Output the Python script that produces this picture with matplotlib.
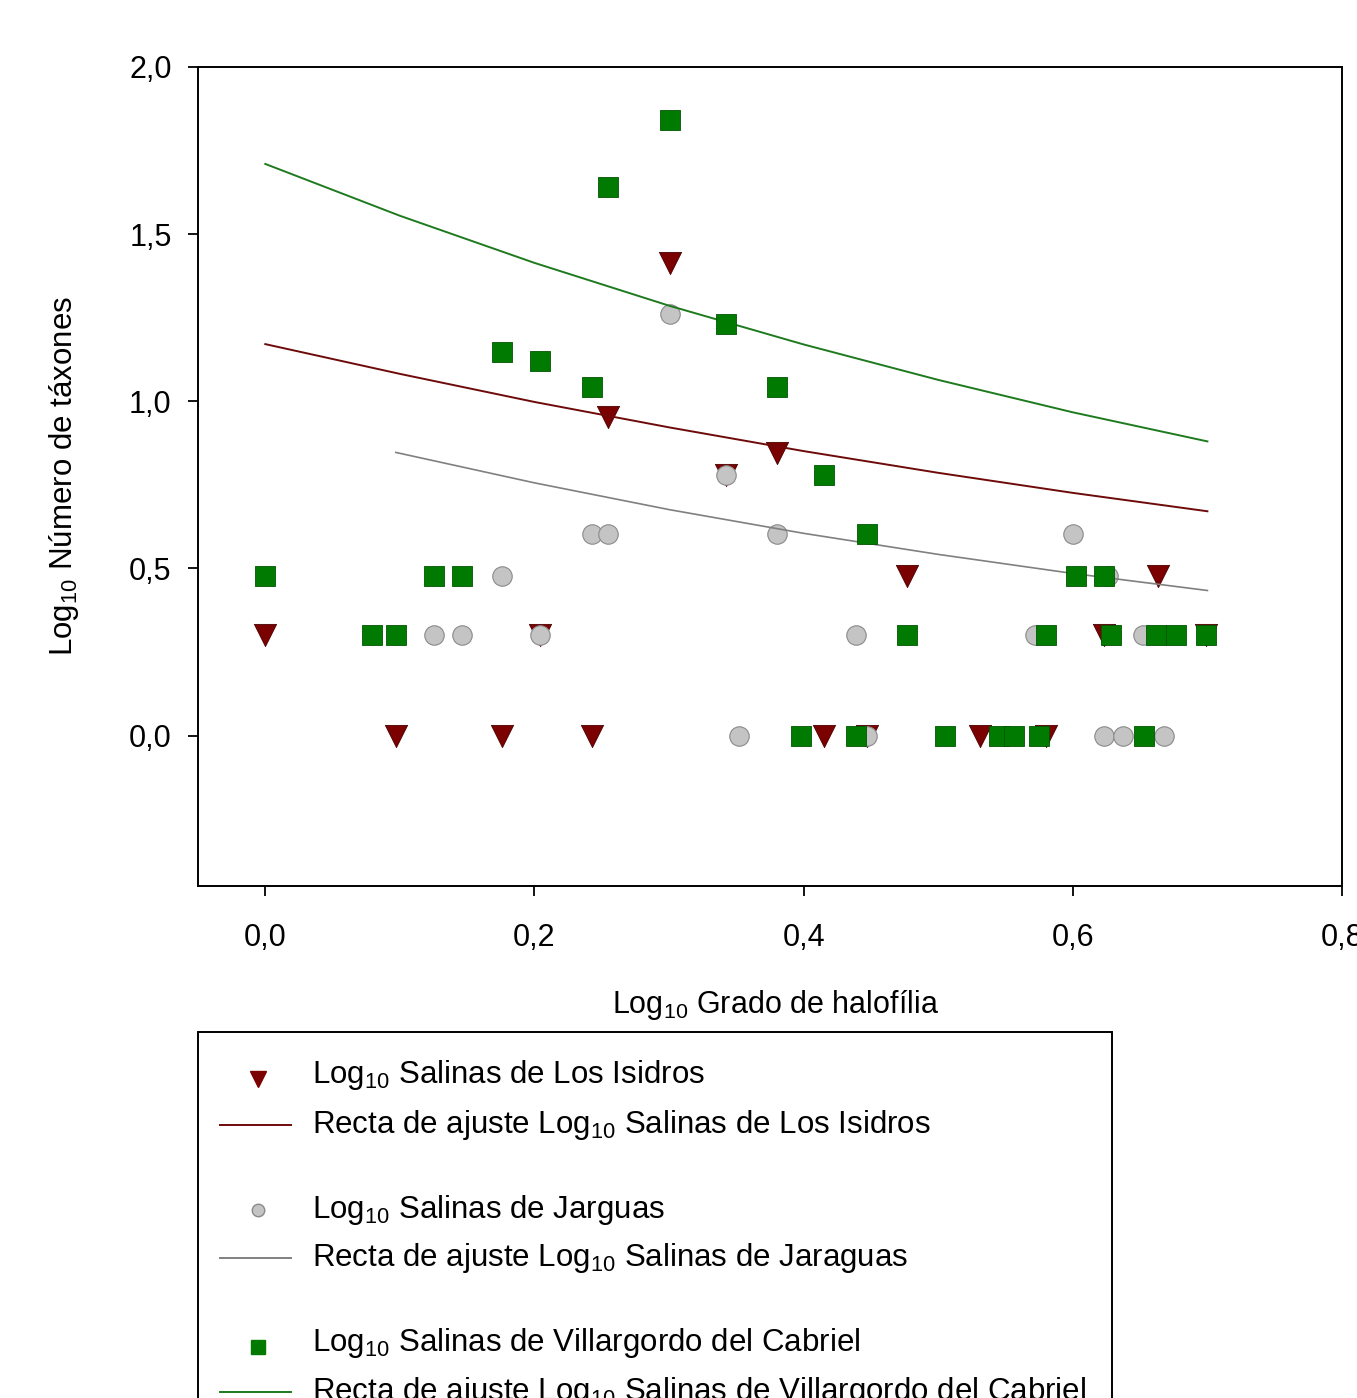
import matplotlib
matplotlib.use('Agg')
import matplotlib.pyplot as plt
from matplotlib.lines import Line2D
from matplotlib.patches import Rectangle
from matplotlib.ticker import FuncFormatter

plt.rcParams['font.family'] = ['Liberation Sans Narrow', 'Liberation Sans', 'DejaVu Sans']
plt.rcParams['mathtext.default'] = 'regular'

# Log10 grado de halofilia / log10 numero de taxones
isidros_x = [0.0, 0.097, 0.176, 0.204, 0.243, 0.255, 0.301, 0.342, 0.380,
             0.415, 0.447, 0.477, 0.531, 0.580, 0.623, 0.663, 0.699]
isidros_y = [0.301, 0.0, 0.0, 0.301, 0.0, 0.954, 1.415, 0.778, 0.845,
             0.0, 0.0, 0.477, 0.0, 0.0, 0.301, 0.477, 0.301]

jarguas_x = [0.125, 0.146, 0.176, 0.204, 0.243, 0.255, 0.301, 0.342, 0.352, 0.380,
             0.439, 0.447, 0.572, 0.600, 0.626, 0.623, 0.637, 0.652, 0.668]
jarguas_y = [0.301, 0.301, 0.477, 0.301, 0.602, 0.602, 1.26, 0.778, 0.0, 0.602,
             0.301, 0.0, 0.301, 0.602, 0.477, 0.0, 0.0, 0.301, 0.0]

villa_x = [0.0, 0.079, 0.097, 0.125, 0.146, 0.176, 0.204, 0.243, 0.255, 0.301,
           0.342, 0.380, 0.398, 0.415, 0.439, 0.447, 0.477, 0.505, 0.545, 0.556,
           0.575, 0.580, 0.602, 0.623, 0.628, 0.653, 0.662, 0.677, 0.699]
villa_y = [0.477, 0.301, 0.301, 0.477, 0.477, 1.147, 1.12, 1.042, 1.641, 1.84,
           1.23, 1.042, 0.0, 0.778, 0.0, 0.602, 0.301, 0.0, 0.0, 0.0,
           0.0, 0.301, 0.477, 0.477, 0.301, 0.0, 0.301, 0.301, 0.301]

# rectas de ajuste
fit_isidros_x = [0.0, 0.1, 0.2, 0.3, 0.4, 0.5, 0.6, 0.7]
fit_isidros_y = [1.171, 1.082, 0.998, 0.922, 0.851, 0.786, 0.726, 0.671]
fit_jarguas_x = [0.097, 0.2, 0.3, 0.4, 0.5, 0.6, 0.7]
fit_jarguas_y = [0.847, 0.756, 0.676, 0.605, 0.542, 0.485, 0.434]
fit_villa_x = [0.0, 0.1, 0.2, 0.3, 0.4, 0.5, 0.6, 0.7]
fit_villa_y = [1.71, 1.555, 1.414, 1.286, 1.170, 1.064, 0.967, 0.880]

red = '#7b0000'
gray = '#c4c4c4'
green = '#007a00'

W, H = 1357, 1398
fig = plt.figure(figsize=(W / 100, H / 100), dpi=100)
ax = fig.add_axes([198 / W, 1 - 886 / H, (1342 - 198) / W, (886 - 67) / H])

ax.scatter(isidros_x, isidros_y, marker='v', s=16 ** 2, color=red,
           edgecolors='#4a0000', linewidths=0.6, zorder=2)
ax.scatter(jarguas_x, jarguas_y, marker='o', s=14 ** 2, color=gray,
           edgecolors='#8a8a8a', linewidths=0.8, zorder=3)
ax.plot(fit_isidros_x, fit_isidros_y, color='#6e0a0a', lw=1.4, zorder=4)
ax.plot(fit_jarguas_x, fit_jarguas_y, color='#808080', lw=1.2, zorder=4)
ax.plot(fit_villa_x, fit_villa_y, color='#1e7a1e', lw=1.4, zorder=4)
ax.scatter(villa_x, villa_y, marker='s', s=14.5 ** 2, color=green,
           edgecolors='#005500', linewidths=0.6, zorder=5)

ax.set_xlim(-0.05, 0.8)
ax.set_ylim(-0.45, 2.0)
ax.set_xticks([0.0, 0.2, 0.4, 0.6, 0.8])
ax.set_yticks([0.0, 0.5, 1.0, 1.5, 2.0])
comma = FuncFormatter(lambda v, p: '{:.1f}'.format(v).replace('.', ','))
ax.xaxis.set_major_formatter(comma)
ax.yaxis.set_major_formatter(comma)
for lab in ax.get_xticklabels() + ax.get_yticklabels():
    lab.set_fontfamily(['Liberation Sans', 'DejaVu Sans'])
ax.tick_params(axis='both', direction='out', length=7, width=1.3, labelsize=22)
ax.tick_params(axis='x', pad=20)
ax.tick_params(axis='y', pad=12)
for sp in ax.spines.values():
    sp.set_linewidth(1.4)

ax.set_xlabel('Log$_{10}$ Grado de halofília', fontsize=22)
ax.set_ylabel('Log$_{10}$ Número de táxones', fontsize=22.5)
ax.xaxis.set_label_coords(0.505, -0.125)
ax.yaxis.set_label_coords(-0.102, 0.5)

# leyenda dibujada a mano (queda cortada por abajo como en el original)
fig.add_artist(Rectangle((198 / W, -0.05), (1112 - 198) / W, 0.05 + 1 - 1032 / H,
                         transform=fig.transFigure, fill=False, lw=1.4, ec='black'))
entries = [
    ('marker', 'v', red, 1075, 'Log$_{10}$ Salinas de Los Isidros'),
    ('line', None, '#6e0a0a', 1125, 'Recta de ajuste Log$_{10}$ Salinas de Los Isidros'),
    ('marker', 'o', gray, 1210, 'Log$_{10}$ Salinas de Jarguas'),
    ('line', None, '#808080', 1258, 'Recta de ajuste Log$_{10}$ Salinas de Jaraguas'),
    ('marker', 's', green, 1343, 'Log$_{10}$ Salinas de Villargordo del Cabriel'),
    ('line', None, '#1e7a1e', 1392, 'Recta de ajuste Log$_{10}$ Salinas de Villargordo del Cabriel'),
]
for kind, mk, col, ypx, label in entries:
    yf = 1 - ypx / H
    if kind == 'marker':
        ms = {'v': 11, 'o': 9, 's': 10}[mk]
        fig.add_artist(Line2D([258 / W], [yf - 0.003 * (mk != 'o')],
                              marker=mk, markersize=ms, color=col,
                              markeredgecolor='#8a8a8a' if mk == 'o' else col,
                              transform=fig.transFigure))
    else:
        fig.add_artist(Line2D([220 / W, 291 / W], [yf, yf], color=col, lw=1.4,
                              transform=fig.transFigure))
    fig.text(312 / W, yf, label, fontsize=22.5, va='center', ha='left')

fig.savefig('out.png', dpi=100)
